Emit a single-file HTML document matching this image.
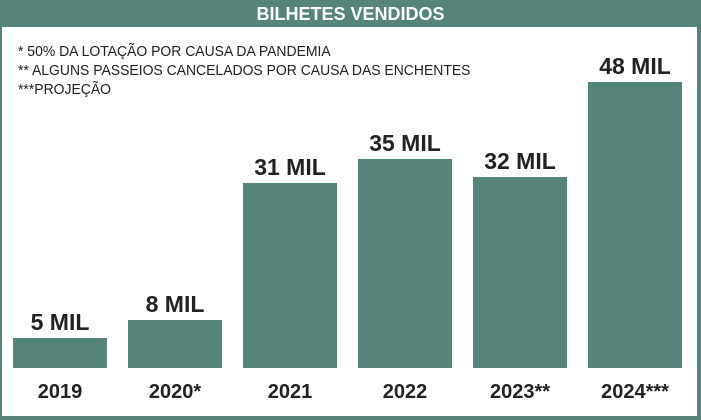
<!DOCTYPE html><html><head><style>
body{margin:0;width:701px;height:420px;background:#55857a;position:relative;overflow:hidden;font-family:"Liberation Sans Narrow","Liberation Sans",sans-serif}
.panel{position:absolute;left:2px;top:27px;width:695px;height:389px;background:#fff}
.t{position:absolute;left:0;width:701px;top:4px;text-align:center;color:#fff;font-weight:bold;font-size:18px}
.n{position:absolute;left:18px;top:42px;font-size:15px;line-height:19px;color:#222;transform:scaleX(0.93);transform-origin:left top;white-space:nowrap}
.b{position:absolute;width:94px;background:#55857a;bottom:52px}
.v,.y{position:absolute;width:140px;text-align:center;font-weight:bold;color:#222;font-size:23px}
.y{top:381px;font-size:20px}
</style></head><body>
<div class="t">BILHETES VENDIDOS</div>
<div class="panel"></div>
<div class="n">* 50% DA LOTAÇÃO POR CAUSA DA PANDEMIA<br>** ALGUNS PASSEIOS CANCELADOS POR CAUSA DAS ENCHENTES<br>***PROJEÇÃO</div>
<div class="b" style="left:13px;top:338px"></div>
<div class="b" style="left:128px;top:320px"></div>
<div class="b" style="left:243px;top:183px"></div>
<div class="b" style="left:358px;top:159px"></div>
<div class="b" style="left:473px;top:177px"></div>
<div class="b" style="left:588px;top:82px"></div>
<div class="v" style="left:-10px;top:309px">5 MIL</div>
<div class="v" style="left:105px;top:291px">8 MIL</div>
<div class="v" style="left:220px;top:154px">31 MIL</div>
<div class="v" style="left:335px;top:130px">35 MIL</div>
<div class="v" style="left:450px;top:148px">32 MIL</div>
<div class="v" style="left:565px;top:53px">48 MIL</div>
<div class="y" style="left:-10px">2019</div>
<div class="y" style="left:105px">2020*</div>
<div class="y" style="left:220px">2021</div>
<div class="y" style="left:335px">2022</div>
<div class="y" style="left:450px">2023**</div>
<div class="y" style="left:565px">2024***</div>
</body></html>
